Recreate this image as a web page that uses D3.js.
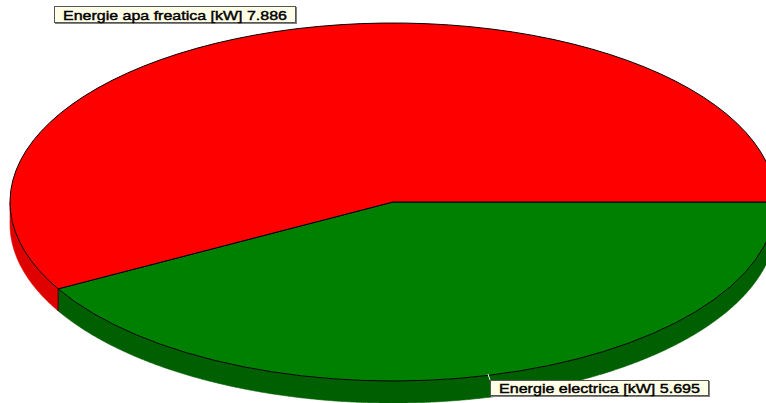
<!DOCTYPE html>
<html>
<head>
<meta charset="utf-8">
<script src="https://cdn.jsdelivr.net/npm/d3@7"></script>
<style>
html,body{margin:0;padding:0;background:#fff;overflow:hidden}
svg{display:block}
text{font-family:"Liberation Sans",Arial,sans-serif;font-size:13.5px;fill:#000;stroke:#000;stroke-width:.45px}
</style>
</head>
<body>
<svg id="pie-svg" width="766" height="403"></svg>
<script>
var categories=["Energie electrica [kW]","Energie apa freatica [kW]"];
var values=[5.695,7.886];
var valueLabels=["5.695","7.886"];
var topColors=["#008000","#ff0000"];
var sideColors=["#005f00","#df0000"];

var width=766,height=403,cx=393,cy=202,rx=383,ry=179,depth=22;

var svg=d3.select("#pie-svg");

// slices start at 3 o'clock and run clockwise
var pie=d3.pie().sort(null).startAngle(Math.PI/2).endAngle(Math.PI*2.5);
var slices=pie(values);

var arc=d3.arc().innerRadius(0).outerRadius(rx);

// side wall, only the front half of the ellipse shows
var wall=d3.area()
	.x(a=>cx+rx*Math.sin(a))
	.y0(a=>cy-ry*Math.cos(a))
	.y1(a=>cy-ry*Math.cos(a)+depth);

svg.append("g").selectAll("path")
	.data(slices)
	.enter().append("path")
	.attr("d",d=>{
		var a0=Math.max(d.startAngle,Math.PI/2),a1=Math.min(d.endAngle,Math.PI*1.5);
		return wall(d3.range(a0,a1,0.005).concat([a1]));
	})
	.attr("fill",(d,i)=>sideColors[i])
	.attr("stroke",(d,i)=>sideColors[i])
	.attr("stroke-width",0.6);

// divider on the wall where the two slices meet
svg.append("g").selectAll("line")
	.data(slices.filter(d=>d.endAngle<Math.PI*1.5))
	.enter().append("line")
	.attr("x1",d=>cx+rx*Math.sin(d.endAngle))
	.attr("x2",d=>cx+rx*Math.sin(d.endAngle))
	.attr("y1",d=>cy-ry*Math.cos(d.endAngle))
	.attr("y2",d=>cy-ry*Math.cos(d.endAngle)+depth)
	.attr("stroke","#000")
	.attr("stroke-width",0.8);

svg.append("g")
	.attr("transform","translate("+cx+","+cy+") scale(1,"+(ry/rx)+")")
	.selectAll("path")
	.data(slices)
	.enter().append("path")
	.attr("d",arc)
	.attr("fill",(d,i)=>topColors[i])
	.attr("stroke","#000")
	.attr("stroke-width",1)
	.attr("vector-effect","non-scaling-stroke");

// labels, text is stretched to the width seen in the picture
var labelBoxes=[{x:54,y:6,w:242,h:17,tx:9,tw:224,ty:14},{x:490,y:380,w:219,h:16,tx:9,tw:201,ty:13}];
var labelOrder=[1,0];

// leader line of the green slice
svg.append("line")
	.attr("x1",488).attr("y1",374)
	.attr("x2",490).attr("y2",380)
	.attr("stroke","#e8f0e8")
	.attr("stroke-width",1);

var labels=svg.append("g").selectAll("g")
	.data(labelBoxes)
	.enter().append("g")
	.attr("transform",d=>"translate("+d.x+","+d.y+")");

labels.append("rect")
	.attr("x",1).attr("y",1)
	.attr("width",d=>d.w).attr("height",d=>d.h)
	.attr("fill","#808080");
labels.append("rect")
	.attr("x",0.5).attr("y",0.5)
	.attr("width",d=>d.w-1).attr("height",d=>d.h-1)
	.attr("fill","#ffffe8")
	.attr("stroke","#555")
	.attr("stroke-width",1);
labels.append("text")
	.attr("x",d=>d.tx)
	.attr("y",d=>d.ty)
	.attr("textLength",d=>d.tw)
	.attr("lengthAdjust","spacingAndGlyphs")
	.text((d,i)=>categories[labelOrder[i]]+" "+valueLabels[labelOrder[i]]);
</script>
</body>
</html>
